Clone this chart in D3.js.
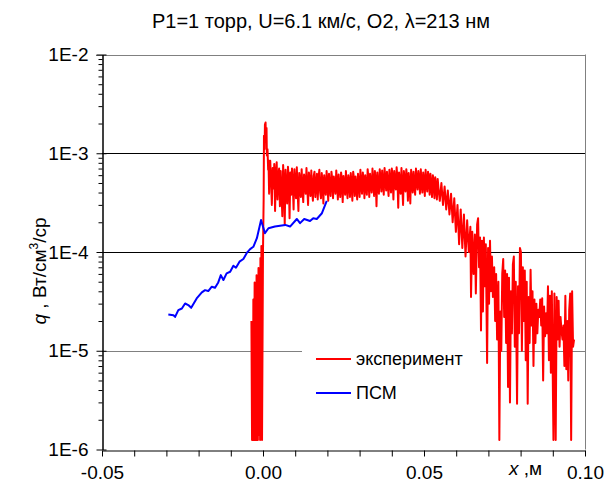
<!DOCTYPE html>
<html>
<head>
<meta charset="utf-8">
<script src="https://cdn.jsdelivr.net/npm/d3@7"></script>
<style>
  body { margin: 0; background: #fff; }
  text { font-family: "Liberation Sans", Arial, sans-serif; fill: #000; }
</style>
</head>
<body>
<svg width="608" height="490"></svg>
<script>
// ---- data ----
var titleText = "P1=1 торр, U=6.1 км/с, О2, λ=213 нм";
var seriesNames = ["эксперимент", "ПСМ"];
var xTickValues = [-0.05, -0.04, -0.03, -0.02, -0.01, 0.00, 0.01, 0.02, 0.03, 0.04, 0.05, 0.06, 0.07, 0.08, 0.09, 0.10];
var yMajorTicks = [1e-6, 1e-5, 1e-4, 1e-3, 1e-2];

// experiment, around the front: [x, q]
var expFront = [
  [-0.0036, 2.0e-5], [-0.0034, 1.25e-6], [-0.0033, 1.6e-5], [-0.0031, 1.25e-6], [-0.0030, 3.3e-5],
  [-0.0028, 1.25e-6], [-0.0026, 4.9e-5], [-0.0025, 1.25e-6], [-0.0023, 4.1e-5], [-0.0022, 1.25e-6],
  [-0.0020, 5.8e-5], [-0.0019, 1.25e-6], [-0.0017, 4.6e-5], [-0.0016, 1.25e-6], [-0.0014, 6.9e-5],
  [-0.0012, 1.4e-6], [-0.0011, 5.2e-5], [-0.0009, 1.25e-6], [-0.0008, 8.7e-5], [-0.0006, 1.6e-6],
  [-0.0005, 1.15e-4], [-0.0003, 1.25e-6], [0.0000, 1.05e-4], [0.0002, 3.4e-4], [0.0003, 1.5e-3],
  [0.0005, 1.1e-3], [0.0006, 1.95e-3], [0.0008, 2.05e-3], [0.0009, 1.4e-3], [0.0011, 1.8e-3],
  [0.0012, 9.5e-4], [0.0014, 1.1e-3], [0.0016, 6.8e-4], [0.0017, 8.5e-4], [0.0019, 3.9e-4]
];

// experiment, plateau: [x, q]
var expPlateau = [
  [0.00200, 6.2e-4], [0.00225, 8.4e-4], [0.00250, 5.2e-4], [0.00275, 3.0e-4], [0.00300, 7.1e-4],
  [0.00325, 4.4e-4], [0.00350, 7.8e-4], [0.00375, 2.6e-4], [0.00400, 6.0e-4], [0.00425, 8.1e-4],
  [0.00450, 3.4e-4], [0.00475, 5.9e-4], [0.00500, 7.0e-4], [0.00525, 2.9e-4], [0.00550, 6.6e-4],
  [0.00575, 4.0e-4], [0.00600, 2.3e-4], [0.00625, 7.6e-4], [0.00650, 5.1e-4], [0.00675, 1.9e-4],
  [0.00700, 6.8e-4], [0.00725, 4.6e-4], [0.00750, 3.1e-4], [0.00775, 7.3e-4], [0.00800, 5.5e-4],
  [0.00825, 2.2e-4], [0.00850, 6.4e-4], [0.00875, 3.8e-4], [0.00900, 7.0e-4], [0.00925, 4.9e-4],
  [0.00950, 2.7e-4], [0.00975, 6.9e-4], [0.01000, 5.0e-4], [0.01025, 3.5e-4], [0.01050, 7.2e-4],
  [0.01075, 4.1e-4], [0.01100, 2.6e-4], [0.01125, 6.3e-4], [0.01150, 5.4e-4], [0.01175, 3.6e-4],
  [0.01200, 6.9e-4], [0.01225, 4.3e-4], [0.01250, 3.2e-4], [0.01275, 6.1e-4], [0.01300, 5.3e-4],
  [0.01325, 3.9e-4], [0.01350, 7.1e-4], [0.01375, 4.5e-4], [0.01400, 3.0e-4], [0.01425, 6.4e-4],
  [0.01450, 5.2e-4], [0.01475, 3.7e-4], [0.01500, 6.7e-4], [0.01525, 4.2e-4], [0.01550, 3.3e-4],
  [0.01575, 5.9e-4], [0.01600, 6.5e-4], [0.01625, 3.6e-4], [0.01650, 4.8e-4], [0.01675, 6.2e-4],
  [0.01700, 3.4e-4], [0.01725, 5.6e-4], [0.01750, 6.8e-4], [0.01775, 4.0e-4], [0.01800, 3.5e-4],
  [0.01825, 6.3e-4], [0.01850, 5.0e-4], [0.01875, 3.1e-4], [0.01900, 6.0e-4], [0.01925, 4.6e-4],
  [0.01950, 3.8e-4], [0.01975, 6.6e-4], [0.02000, 5.1e-4], [0.02025, 3.3e-4], [0.02050, 6.2e-4],
  [0.02075, 4.4e-4], [0.02100, 3.7e-4], [0.02125, 6.5e-4], [0.02150, 5.5e-4], [0.02175, 3.5e-4],
  [0.02200, 5.8e-4], [0.02225, 4.7e-4], [0.02250, 3.9e-4], [0.02275, 6.7e-4], [0.02300, 5.0e-4],
  [0.02325, 3.4e-4], [0.02350, 6.1e-4], [0.02375, 4.3e-4], [0.02400, 3.6e-4], [0.02425, 6.4e-4],
  [0.02450, 5.4e-4], [0.02475, 3.2e-4], [0.02500, 5.9e-4], [0.02525, 4.8e-4], [0.02550, 3.8e-4],
  [0.02575, 6.6e-4], [0.02600, 4.5e-4], [0.02625, 3.5e-4], [0.02650, 6.0e-4], [0.02675, 5.2e-4],
  [0.02700, 3.6e-4], [0.02725, 6.3e-4], [0.02750, 4.9e-4], [0.02775, 3.3e-4], [0.02800, 6.5e-4],
  [0.02825, 5.6e-4], [0.02850, 3.7e-4], [0.02875, 5.8e-4], [0.02900, 4.6e-4], [0.02925, 3.4e-4],
  [0.02950, 6.2e-4], [0.02975, 5.0e-4], [0.03000, 3.6e-4], [0.03025, 6.8e-4], [0.03050, 4.7e-4],
  [0.03075, 3.9e-4], [0.03100, 6.4e-4], [0.03125, 5.3e-4], [0.03150, 3.5e-4], [0.03175, 6.0e-4],
  [0.03200, 4.4e-4], [0.03225, 3.8e-4], [0.03250, 6.9e-4], [0.03275, 5.5e-4], [0.03300, 3.6e-4],
  [0.03325, 6.2e-4], [0.03350, 4.9e-4], [0.03375, 4.0e-4], [0.03400, 7.0e-4], [0.03425, 5.1e-4],
  [0.03450, 3.7e-4], [0.03475, 6.6e-4], [0.03500, 5.2e-4], [0.03525, 2.9e-4], [0.03550, 6.4e-4],
  [0.03575, 4.6e-4], [0.03600, 3.9e-4], [0.03625, 6.9e-4], [0.03650, 5.6e-4], [0.03675, 4.1e-4],
  [0.03700, 6.7e-4], [0.03725, 5.0e-4], [0.03750, 3.8e-4], [0.03775, 7.1e-4], [0.03800, 5.4e-4],
  [0.03825, 4.2e-4], [0.03850, 6.5e-4], [0.03875, 4.8e-4], [0.03900, 3.7e-4], [0.03925, 6.8e-4],
  [0.03950, 5.3e-4], [0.03975, 4.0e-4], [0.04000, 7.0e-4], [0.04025, 5.7e-4], [0.04050, 3.4e-4],
  [0.04075, 6.6e-4], [0.04100, 5.0e-4], [0.04125, 4.3e-4], [0.04150, 7.2e-4], [0.04175, 5.5e-4],
  [0.04200, 2.8e-4], [0.04225, 6.4e-4], [0.04250, 5.1e-4], [0.04275, 3.9e-4], [0.04300, 7.1e-4],
  [0.04325, 4.7e-4], [0.04350, 3.0e-4], [0.04375, 6.6e-4], [0.04400, 5.3e-4], [0.04425, 4.1e-4],
  [0.04450, 6.9e-4], [0.04475, 5.6e-4], [0.04500, 3.3e-4], [0.04525, 6.3e-4], [0.04550, 5.0e-4],
  [0.04575, 3.1e-4], [0.04600, 6.8e-4], [0.04625, 5.4e-4], [0.04650, 4.0e-4], [0.04675, 6.5e-4],
  [0.04700, 4.8e-4], [0.04725, 3.8e-4], [0.04750, 7.0e-4], [0.04775, 5.2e-4], [0.04800, 4.3e-4],
  [0.04825, 6.6e-4], [0.04850, 5.5e-4], [0.04875, 3.9e-4], [0.04900, 6.9e-4], [0.04925, 4.9e-4],
  [0.04950, 4.0e-4], [0.04975, 6.4e-4], [0.05000, 5.3e-4], [0.05025, 3.7e-4], [0.05050, 6.8e-4],
  [0.05075, 5.0e-4], [0.05100, 4.1e-4], [0.05125, 6.5e-4], [0.05150, 5.6e-4], [0.05175, 3.8e-4],
  [0.05200, 6.2e-4], [0.05225, 4.7e-4], [0.05250, 3.6e-4], [0.05275, 6.0e-4], [0.05300, 5.1e-4],
  [0.05325, 3.5e-4], [0.05350, 5.7e-4], [0.05375, 4.5e-4], [0.05400, 3.4e-4], [0.05425, 5.5e-4],
  [0.05450, 4.4e-4]
];

// experiment, decay: [x, q]
var expDecay = [
  [0.0549, 3.3e-4], [0.0554, 5.0e-4], [0.0559, 3.0e-4], [0.0564, 4.6e-4],
  [0.0569, 2.7e-4], [0.0574, 4.2e-4], [0.0579, 2.4e-4], [0.0584, 3.9e-4], [0.0589, 2.0e-4],
  [0.0594, 3.5e-4], [0.0599, 1.6e-4], [0.0604, 3.0e-4], [0.0609, 1.2e-4], [0.0614, 2.7e-4],
  [0.0619, 1.1e-4], [0.0624, 2.4e-4], [0.0629, 9.0e-5], [0.0634, 2.1e-4], [0.0639, 1.0e-4],
  [0.0644, 1.8e-4], [0.0646, 3.5e-5], [0.0650, 1.6e-4], [0.0654, 6.0e-5], [0.0658, 1.5e-4],
  [0.0661, 3.8e-5], [0.0665, 1.9e-4], [0.0668, 2.2e-4], [0.0671, 7.0e-5], [0.0674, 1.4e-4],
  [0.0677, 1.6e-5], [0.0680, 1.3e-4], [0.0683, 2.5e-5], [0.0686, 1.4e-4], [0.0689, 4.5e-5],
  [0.0692, 1.2e-4], [0.0696, 7.5e-6], [0.0699, 1.1e-4], [0.0702, 3.0e-5], [0.0705, 1.3e-4],
  [0.0708, 4.0e-5], [0.0711, 9.0e-5], [0.0714, 3.5e-5], [0.0718, 7.0e-5], [0.0721, 2.0e-5],
  [0.0724, 6.0e-5], [0.0727, 1.3e-5], [0.0731, 5.0e-5], [0.0734, 1.25e-6], [0.0737, 2.5e-5],
  [0.0740, 1.0e-5], [0.0743, 6.0e-5], [0.0746, 8.5e-5], [0.0749, 2.2e-5], [0.0752, 6.5e-5],
  [0.0755, 1.2e-5], [0.0758, 6.0e-5], [0.0761, 4.3e-6], [0.0764, 5.5e-5], [0.0767, 3.0e-6],
  [0.0770, 4.0e-5], [0.0773, 1.5e-5], [0.0776, 7.5e-5], [0.0779, 9.0e-5], [0.0782, 1.1e-5],
  [0.0785, 5.0e-5], [0.0789, 2.9e-6], [0.0792, 4.5e-5], [0.0795, 1.5e-5], [0.0798, 1.1e-4],
  [0.0801, 1.0e-4], [0.0804, 1.0e-5], [0.0807, 7.0e-5], [0.0810, 2.0e-5], [0.0813, 6.5e-5],
  [0.0816, 8.0e-6], [0.0819, 5.0e-5], [0.0822, 2.9e-6], [0.0825, 3.5e-5], [0.0828, 1.2e-5],
  [0.0831, 6.6e-5], [0.0834, 1.8e-5], [0.0837, 4.0e-5], [0.0840, 7.0e-6], [0.0843, 3.3e-5],
  [0.0846, 1.2e-5], [0.0849, 3.0e-5], [0.0852, 1.5e-5], [0.0855, 2.6e-5], [0.0858, 2.2e-5],
  [0.0861, 3.3e-5], [0.0864, 1.8e-5], [0.0867, 3.4e-5], [0.0870, 5.0e-6], [0.0873, 2.8e-5],
  [0.0876, 1.4e-5], [0.0879, 2.4e-5], [0.0882, 1.5e-5], [0.0885, 4.5e-5], [0.0888, 8.0e-6],
  [0.0891, 3.6e-5], [0.0894, 6.0e-6], [0.0897, 4.0e-5], [0.0902, 1.25e-6], [0.0905, 3.8e-5],
  [0.0909, 1.25e-6], [0.0912, 3.5e-5], [0.0915, 1.3e-5], [0.0918, 3.2e-5], [0.0921, 1.1e-5],
  [0.0924, 2.2e-5], [0.0927, 1.6e-5], [0.0930, 1.3e-5], [0.0933, 1.8e-5], [0.0936, 7.0e-6],
  [0.0939, 3.6e-5], [0.0942, 6.5e-6], [0.0945, 2.0e-5], [0.0948, 5.0e-6], [0.0951, 2.6e-5],
  [0.0954, 3.8e-5], [0.0957, 1.25e-6], [0.0960, 4.0e-5], [0.0963, 1.1e-5], [0.0966, 1.3e-5]
];

// PSM model: [x, q]
var psm = [
  [-0.0294, 2.33e-5], [-0.0278, 2.29e-5], [-0.0273, 2.20e-5], [-0.0263, 2.58e-5], [-0.0252, 2.68e-5],
  [-0.0242, 3.01e-5], [-0.0232, 2.90e-5], [-0.0223, 2.72e-5], [-0.0206, 3.39e-5], [-0.0190, 3.90e-5],
  [-0.0180, 4.11e-5], [-0.0170, 4.02e-5], [-0.0159, 4.45e-5], [-0.0149, 4.34e-5], [-0.0139, 4.92e-5],
  [-0.0131, 5.83e-5], [-0.0123, 5.20e-5], [-0.0113, 6.08e-5], [-0.0102, 6.31e-5], [-0.0092, 7.26e-5],
  [-0.0084, 6.93e-5], [-0.0073, 7.98e-5], [-0.0061, 8.50e-5], [-0.0049, 9.93e-5], [-0.0040, 1.07e-4],
  [-0.0030, 1.13e-4], [-0.0019, 1.38e-4], [-0.0006, 2.11e-4], [0.0006, 1.55e-4], [0.0017, 1.74e-4],
  [0.0037, 1.81e-4], [0.0069, 1.88e-4], [0.0084, 1.81e-4], [0.0105, 2.16e-4], [0.0115, 1.96e-4],
  [0.0128, 2.16e-4], [0.0146, 2.06e-4], [0.0156, 2.20e-4], [0.0167, 2.16e-4], [0.0183, 2.47e-4],
  [0.0198, 3.30e-4]
];

var experiment = expFront.concat(expPlateau, expDecay);

// ---- layout ----
var svg = d3.select("svg");
var plotLeft = 102, plotRight = 585, plotTop = 54.5, plotBottom = 449.5;

var x = d3.scaleLinear().domain([-0.05, 0.10]).range([plotLeft, plotRight]);
var y = d3.scaleLog().domain([1e-6, 1e-2]).range([plotBottom, plotTop]);

// title
svg.append("text")
    .attr("x", 321).attr("y", 28)
    .attr("text-anchor", "middle")
    .style("font-size", "20px")
    .text(titleText);

// gridlines (1E-5 .. 1E-3) and border
var grid = svg.append("g");
[1e-5, 1e-4, 1e-3].forEach(function (v) {
    grid.append("line")
        .attr("x1", plotLeft).attr("x2", plotRight)
        .attr("y1", Math.round(y(v)) + 0.5).attr("y2", Math.round(y(v)) + 0.5)
        .attr("stroke", v === 1e-5 ? "#808080" : "#000")
        .attr("stroke-width", 1);
});
svg.append("line")
    .attr("x1", plotLeft - 6).attr("x2", plotRight)
    .attr("y1", Math.round(plotTop) + 0.5).attr("y2", Math.round(plotTop) + 0.5)
    .attr("stroke", "#808080");
svg.append("line")
    .attr("x1", plotRight + 0.5).attr("x2", plotRight + 0.5)
    .attr("y1", plotTop).attr("y2", plotBottom)
    .attr("stroke", "#808080");

// x axis
var xAxis = d3.axisBottom(x)
    .tickValues(xTickValues)
    .tickSize(6)
    .tickSizeOuter(0)
    .tickPadding(9)
    .tickFormat(function (d) {
        var k = Math.round(d * 100);
        return k % 5 === 0 ? d3.format(".2f")(d).replace("\u2212", "-") : "";
    });
var gx = svg.append("g")
    .attr("transform", "translate(0," + (Math.round(plotBottom) + 0.5) + ")")
    .call(xAxis);
gx.selectAll("text").style("font-size", "19px").attr("fill", "#000");
gx.selectAll("line, path").attr("stroke", "#000");

// y axis minor ticks
var minor = [];
for (var e = -6; e < -2; e++) {
    for (var m = 2; m <= 9; m++) minor.push(m * Math.pow(10, e));
}
svg.append("g")
    .attr("transform", "translate(" + (plotLeft + 0.5) + ",0)")
    .call(d3.axisLeft(y).tickValues(minor).tickSize(4).tickSizeOuter(0).tickFormat(""))
    .selectAll("line, path").attr("stroke", "#000");

var gy = svg.append("g")
    .attr("transform", "translate(" + (plotLeft + 0.5) + ",0)")
    .call(d3.axisLeft(y)
        .tickValues(yMajorTicks)
        .tickSize(6)
        .tickSizeOuter(0)
        .tickPadding(8)
        .tickFormat(function (d) { return "1E" + Math.round(Math.log10(d)); }));
gy.selectAll("text").style("font-size", "19px").attr("fill", "#000");
gy.selectAll("line, path").attr("stroke", "#000");
gy.selectAll(".tick line").attr("x2", 4).attr("x1", -6);

// axis titles
var yt = svg.append("text")
    .attr("transform", "translate(46,271) rotate(-90)")
    .attr("text-anchor", "middle")
    .style("font-size", "19px");
yt.append("tspan").style("font-style", "italic").text("q");
yt.append("tspan").text(" ,  Вт/см");
yt.append("tspan").attr("dy", -8).style("font-size", "12px").text("3");
yt.append("tspan").attr("dy", 8).text("/ср");

var xt = svg.append("text")
    .attr("x", 509).attr("y", 475)
    .style("font-size", "19px");
xt.append("tspan").style("font-style", "italic").text("x");
xt.append("tspan").text(" ,м");

// series
var line = d3.line()
    .x(function (d) { return x(d[0]); })
    .y(function (d) { return y(d[1]); });

svg.append("path")
    .datum(experiment)
    .attr("d", line)
    .attr("fill", "none")
    .attr("stroke", "#ff0000")
    .attr("stroke-width", 2)
    .attr("stroke-linejoin", "round");

svg.append("path")
    .datum(psm)
    .attr("d", line)
    .attr("fill", "none")
    .attr("stroke", "#0000ff")
    .attr("stroke-width", 2)
    .attr("stroke-linejoin", "round");

// legend
var legend = svg.append("g");
legend.append("rect")
    .attr("x", 302).attr("y", 337).attr("width", 178).attr("height", 72)
    .attr("fill", "#fff");
var colors = ["#ff0000", "#0000ff"];
seriesNames.forEach(function (name, i) {
    var ly = 359 + i * 34;
    legend.append("line")
        .attr("x1", 316).attr("x2", 351)
        .attr("y1", ly).attr("y2", ly)
        .attr("stroke", colors[i]).attr("stroke-width", 2);
    legend.append("text")
        .attr("x", 356).attr("y", ly + 6)
        .style("font-size", "18px")
        .text(name);
});
</script>
</body>
</html>
